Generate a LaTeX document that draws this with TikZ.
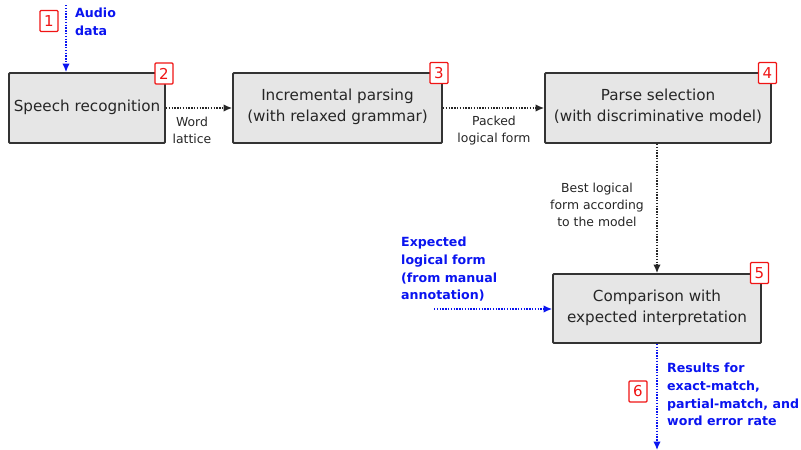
\documentclass[tikz,border=0pt]{standalone}
\usepackage{fontspec}
\setmainfont{DejaVu Sans}
\usetikzlibrary{arrows.meta}
\definecolor{boxfill}{HTML}{E6E6E6}
\definecolor{boxline}{HTML}{333333}
\definecolor{flowblue}{HTML}{0A14F0}
\definecolor{badgered}{HTML}{F01414}
\tikzset{
  stage/.style={draw=boxline, line width=1.8pt, fill=boxfill, rounded corners=1pt,
    align=center, inner sep=0pt, font=\fontsize{15.2}{21}\selectfont, text=black!85,
    execute at end node={\rule[-5pt]{0pt}{0pt}}},
  badge/.style={draw=badgered, line width=1.3pt, fill=white, rounded corners=1pt,
    text=badgered, inner sep=0pt, minimum width=18pt, minimum height=21pt,
    font=\fontsize{15}{15}\selectfont},
  flow/.style={line width=1.4pt, dash pattern=on 1.4pt off 1.4pt,
    -{Latex[length=8.5pt,width=7.5pt]}},
  blackflow/.style={flow, draw=black!85},
  blueflow/.style={flow, draw=flowblue},
  note/.style={align=center, font=\fontsize{12.4}{17}\selectfont, text=black!85, inner sep=0pt},
  bluenote/.style={align=left, font=\fontsize{12.6}{17.7}\selectfont\bfseries, text=flowblue, inner sep=0pt, anchor=north west},
}
\begin{document}
\begin{tikzpicture}[x=1pt, y=-1pt]
\useasboundingbox (0,0) rectangle (801,450);

% processing stages
\node[stage, minimum width=156pt, minimum height=70pt] (a) at (87,108) {Speech recognition};
\node[stage, minimum width=209pt, minimum height=70pt] (b) at (337.5,108) {Incremental parsing\\(with relaxed grammar)};
\node[stage, minimum width=226pt, minimum height=70pt] (c) at (658,108) {Parse selection\\(with discriminative model)};
\node[stage, minimum width=208pt, minimum height=69pt] (d) at (657,308.5) {Comparison with\\expected interpretation};

% free ends of the external flows
\coordinate (audio) at (66,5);
\coordinate (gold) at (434,309);
\coordinate (out) at (657,450);

% connectors
\draw[blueflow] (audio) -- (a.north -| audio);
\draw[blackflow] (a) -- (b);
\draw[blackflow] (b) -- (c);
\draw[blackflow] (c.south -| d.north) -- (d.north);
\draw[blueflow] (gold) -- (d.west |- gold);
\draw[blueflow] (d.south) -- (out);

% connector labels
\node[note] (lwl) at (192,130.5) {Word\\lattice};
\node[note] (lplf) at (494,130.5) {Packed\\logical form};
\node[note] (lbest) at (597,205) {Best logical\\form according\\to the model};
\node[bluenote] (laudio) at (75,8) {Audio\\data};
\node[bluenote] (lgold) at (401,237) {Expected\\logical form\\(from manual\\annotation)};
\node[bluenote] (lres) at (667,363) {Results for\\exact-match,\\partial-match, and\\word error rate};

% step numbers
\node[badge] (n1) at (49,21) {1};
\node[badge] (n2) at (164,73.5) {2};
\node[badge] (n3) at (439,73) {3};
\node[badge] (n4) at (767.5,73) {4};
\node[badge] (n5) at (759.5,273) {5};
\node[badge] (n6) at (638,391.5) {6};
\end{tikzpicture}
\end{document}
